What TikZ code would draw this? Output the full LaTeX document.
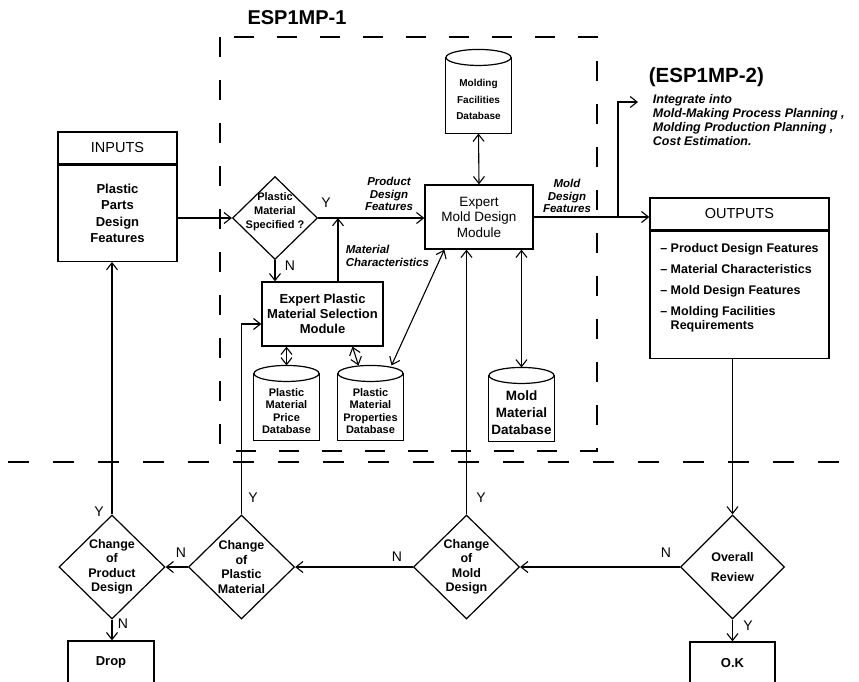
\documentclass[tikz,border=0pt]{standalone}
\usepackage{fontspec}
\setmainfont{Liberation Sans}
\usetikzlibrary{shapes.geometric,arrows.meta,positioning}

\def\ry{8pt}

\begin{document}
\begin{tikzpicture}[x=1pt,y=-1pt,line width=1.1pt,
  flow/.style={-{Straight Barb[length=7pt,width=11pt]}},
  both/.style={{Straight Barb[length=7pt,width=11pt]}-{Straight Barb[length=7pt,width=11pt]}}]
  \tikzset{module/.style={draw,line width=1.3pt,align=center,inner sep=0pt},
    head/.style={draw,line width=1.3pt,minimum height=32pt,font=\fontsize{14.5}{16}\selectfont},
    decision/.style={diamond,draw,line width=1.2pt,minimum width=106pt,minimum height=104pt,inner sep=0pt},
    dtext/.style={align=center,font=\bfseries\fontsize{12.5}{14.5}\selectfont},
    db/.style={minimum width=65pt,inner sep=0pt,align=center,font=\bfseries\fontsize{11}{12.5}\selectfont},
    note/.style={align=center,font=\bfseries\itshape\fontsize{11.5}{12.5}\selectfont},
    yn/.style={font=\fontsize{14}{14}\selectfont}}
  \useasboundingbox (0,0) rectangle (859,681);
  \clip (0,0) rectangle (859,681);

  % ESP1MP-1 frame and level line
  \draw[dash pattern=on 20pt off 23pt] (220,37) rectangle (597,451);
  \node[font=\bfseries\fontsize{20}{20}\selectfont] (esp1) at (297,18) {ESP1MP-1};
  \draw[dash pattern=on 21pt off 24pt] (8,462) -- (859,462);

  % inputs / outputs
  \node[head,minimum width=119pt] (inputs) at (117.5,148) {INPUTS};
  \node[module,minimum width=119pt,minimum height=96pt,below=0pt of inputs,
    font=\bfseries\fontsize{13}{16.5}\selectfont] (inputsbody) {Plastic\\Parts\\Design\\Features};
  \node[head,minimum width=179pt] (outputs) at (739.5,214) {OUTPUTS};
  \node[module,minimum width=179pt,minimum height=127pt,below=0pt of outputs,align=left,text depth=17pt,
    font=\bfseries\fontsize{12.5}{14}\selectfont] (outputsbody)
    {-- Product Design Features\\[7pt]-- Material Characteristics\\[7pt]-- Mold Design Features\\[7pt]-- Molding Facilities\\\phantom{-- }Requirements};

  % modules
  \node[decision,minimum width=85pt,minimum height=83pt] (spec) at (275,218) {};
  \node[dtext,font=\bfseries\fontsize{11}{14}\selectfont] (spectext) at ([yshift=6pt]spec) {Plastic\\Material\\Specified ?};
  \node[module,minimum width=121pt,minimum height=64pt,font=\bfseries\fontsize{13}{15}\selectfont] (selmod) at (322.5,314)
    {Expert Plastic\\Material Selection\\Module};
  \node[module,minimum width=108pt,minimum height=64pt,font=\fontsize{13.5}{15.5}\selectfont] (mold) at (479,217)
    {Expert\\Mold Design\\Module};

  % databases
  \node[db,minimum height=67pt,font=\bfseries\fontsize{10}{16.5}\selectfont] (molddb) at (478.5,99.5) {Molding\\Facilities\\Database};
  \node[db,minimum height=58pt] (pricedb) at (286.5,411) {Plastic\\Material\\Price\\Database};
  \node[db,minimum height=58pt] (propdb) at (370.5,411) {Plastic\\Material\\Properties\\Database};
  \node[db,minimum height=57pt,font=\bfseries\fontsize{13.5}{17}\selectfont] (matdb) at (521.5,412.5) {Mold\\Material\\Database};
  \foreach \d in {molddb,pricedb,propdb,matdb} {
    \coordinate (\d-top) at ([yshift=2*\ry]\d.north);
    \draw[line width=1.2pt] ([yshift=\ry]\d.north west) -- (\d.south west) -- (\d.south east) -- ([yshift=\ry]\d.north east);
    \draw[line width=1.2pt] ([yshift=\ry]\d.north) ellipse [x radius=32.5pt,y radius=\ry];
  }

  % review loop
  \node[decision,minimum width=104pt] (overall) at (732.5,567) {};
  \node[dtext,font=\bfseries\fontsize{12.5}{20}\selectfont] (overalltext) at (overall) {Overall\\Review};
  \node[decision] (chmold) at (466.5,567) {};
  \node[dtext] (chmoldtext) at (chmold) {Change\\of\\Mold\\Design};
  \node[decision] (chmat) at (241.5,567) {};
  \node[dtext] (chmattext) at (chmat) {Change\\of\\Plastic\\Material};
  \node[decision] (chprod) at (112,567) {};
  \node[dtext] (chprodtext) at (chprod) {Change\\of\\Product\\Design};
  \node[module,minimum width=86pt,minimum height=42pt,font=\bfseries\fontsize{13}{15}\selectfont] (drop) at (111,662) {Drop};
  \node[module,minimum width=85pt,minimum height=42pt,font=\bfseries\fontsize{13}{15}\selectfont] (ok) at (732.5,663) {O.K};

  % ESP1MP-2
  \node[anchor=west,font=\bfseries\fontsize{20.5}{22}\selectfont] (esp2title) at (645,77) {(ESP1MP-2)};
  \node[anchor=west,align=left,font=\bfseries\itshape\fontsize{12.5}{14}\selectfont] (esp2text) at (649,120)
    {Integrate into\\Mold-Making Process Planning ,\\Molding Production Planning ,\\Cost Estimation.};
  \coordinate (branch) at (618,217);
  \coordinate (esp2) at (638,102);

  % connectors
  \draw[flow] (spec -| inputsbody.east) -- (spec.west);
  \draw[flow] (spec.east) -- (spec.east -| mold.west);
  \draw[flow] (spec.south) -- (spec.south |- selmod.north);
  \draw[flow] ([xshift=15.5pt]selmod.north) -- ([xshift=15.5pt]selmod.north |- spec.east);
  \draw[both] (molddb.south) -- (mold.north);
  \draw[both] (pricedb-top) -- (pricedb-top |- selmod.south);
  \draw[both] ([xshift=30pt]selmod.south) -- ([xshift=-12pt]propdb-top);
  \draw[both] ([xshift=21pt]propdb-top) -- ([xshift=20pt]mold.south west);
  \draw[both] (matdb-top) -- (matdb-top |- mold.south);
  \draw[flow] (mold.east) -- (mold.east -| outputs.west);
  \draw[flow] (branch) |- (esp2);
  \draw[flow] (overall.north |- outputsbody.south) -- (overall.north);
  \draw[flow] (overall.south) -- (overall.south |- ok.north);
  \draw[flow] (overall.west) -- (chmold.east);
  \draw[flow] (chmold.north) -- (chmold.north |- mold.south);
  \draw[flow] (chmold.west) -- (chmat.east);
  \draw[flow] (chmat.north) |- ([yshift=-10pt]selmod.west);
  \draw[flow] (chmat.west) -- (chprod.east);
  \draw[flow] (chprod.north) -- (chprod.north |- inputsbody.south);
  \draw[flow] (chprod.south) -- (chprod.south |- drop.north);

  % flow labels
  \node[note] (pdf) at (389,194) {Product\\Design\\Features};
  \node[note,anchor=west,align=left] (mc) at (342,256) {Material\\Characteristics};
  \node[note] (mdf) at (567,196) {Mold\\Design\\Features};
  \node[yn] (y1) at (326,203) {Y};
  \node[yn] (n1) at (290,266) {N};
  \node[yn] (y2) at (481,498) {Y};
  \node[yn] (n2) at (666,553) {N};
  \node[yn] (n3) at (397,557) {N};
  \node[yn] (y3) at (253,498) {Y};
  \node[yn] (n4) at (181,553) {N};
  \node[yn] (y4) at (99,512) {Y};
  \node[yn] (n5) at (123,624) {N};
  \node[yn] (y5) at (748,626) {Y};
\end{tikzpicture}
\end{document}
